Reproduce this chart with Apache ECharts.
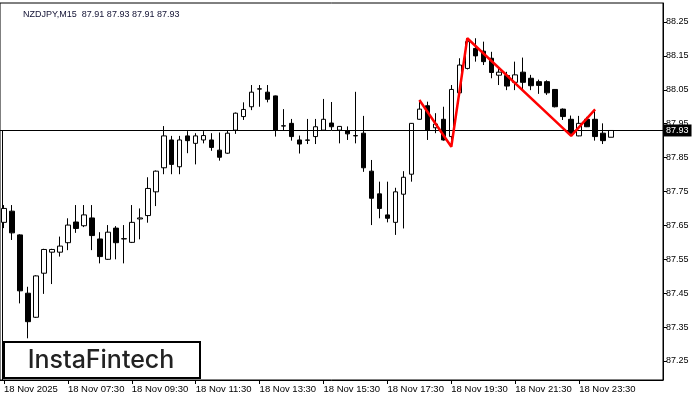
<!DOCTYPE html>
<html>
<head>
<meta charset="utf-8">
<script src="https://cdn.jsdelivr.net/npm/echarts@6/dist/echarts.min.js"></script>
<style>html,body{margin:0;padding:0;background:#fff}#c{width:700px;height:400px}</style>
</head>
<body>
<div id="c"></div>
<script>
var categories = ["05:30","05:45","06:00","06:15","06:30","06:45","07:00","07:15","07:30","07:45","08:00","08:15","08:30","08:45","09:00","09:15","09:30","09:45","10:00","10:15","10:30","10:45","11:00","11:15","11:30","11:45","12:00","12:15","12:30","12:45","13:00","13:15","13:30","13:45","14:00","14:15","14:30","14:45","15:00","15:15","15:30","15:45","16:00","16:15","16:30","16:45","17:00","17:15","17:30","17:45","18:00","18:15","18:30","18:45","19:00","19:15","19:30","19:45","20:00","20:15","20:30","20:45","21:00","21:15","21:30","21:45","22:00","22:15","22:30","22:45","23:00","23:15","23:30","23:45","00:00","00:15","00:30","00:45","01:00","01:15","01:30","01:45","02:00"];
var opens  = [87.659,87.692,87.622,87.450,87.379,87.509,87.571,87.571,87.599,87.660,87.649,87.672,87.610,87.550,87.642,87.610,87.600,87.669,87.679,87.749,87.820,87.902,87.823,87.914,87.892,87.902,87.902,87.872,87.863,87.931,87.971,88.000,88.052,88.043,88.032,87.943,87.951,87.902,87.901,87.912,87.931,87.952,87.931,87.929,87.914,87.922,87.810,87.743,87.681,87.659,87.742,87.801,87.963,88.003,87.938,87.963,87.912,88.041,88.113,88.172,88.164,88.143,88.093,88.092,88.072,88.102,88.084,88.074,88.074,88.051,87.993,87.963,87.914,87.963,87.963,87.922,87.910];
var closes = [87.700,87.628,87.457,87.366,87.501,87.579,87.579,87.589,87.651,87.641,87.681,87.620,87.558,87.630,87.599,87.611,87.659,87.672,87.759,87.810,87.914,87.830,87.902,87.900,87.914,87.915,87.880,87.851,87.922,87.981,87.992,88.043,88.053,88.022,87.931,87.944,87.912,87.890,87.902,87.941,87.963,87.941,87.942,87.920,87.915,87.820,87.730,87.700,87.671,87.749,87.792,87.951,87.993,87.931,87.949,87.902,88.051,88.123,88.192,88.150,88.133,88.101,88.102,88.061,88.094,88.072,88.062,88.063,88.041,88.000,87.971,87.920,87.951,87.941,87.912,87.900,87.930];
var lows   = [87.642,87.607,87.420,87.317,87.377,87.448,87.477,87.558,87.577,87.628,87.645,87.577,87.538,87.548,87.550,87.538,87.598,87.609,87.658,87.707,87.801,87.801,87.801,87.863,87.830,87.892,87.870,87.841,87.861,87.920,87.961,87.990,88.000,88.013,87.912,87.931,87.900,87.862,87.890,87.890,87.931,87.931,87.892,87.902,87.892,87.808,87.651,87.671,87.659,87.622,87.641,87.779,87.962,87.902,87.922,87.900,87.882,88.040,88.110,88.133,88.123,88.084,88.064,88.049,88.049,88.049,88.049,88.038,88.035,87.998,87.961,87.914,87.913,87.940,87.900,87.890,87.910];
var highs  = [87.710,87.710,87.624,87.469,87.503,87.581,87.581,87.617,87.671,87.710,87.710,87.710,87.630,87.651,87.648,87.651,87.710,87.700,87.792,87.812,87.943,87.914,87.914,87.928,87.922,87.928,87.922,87.924,87.931,87.983,88.013,88.064,88.064,88.064,88.033,87.993,87.964,87.915,87.964,87.964,88.023,88.014,87.943,87.942,88.044,87.973,87.843,87.779,87.779,87.761,87.810,87.952,88.020,88.015,87.981,88.000,88.064,88.143,88.202,88.202,88.192,88.162,88.116,88.103,88.133,88.145,88.094,88.080,88.078,88.052,87.995,87.974,87.973,87.970,87.992,87.951,87.930];
var patternIdx = [52, 56, 58, 71, 74];
var patternVal = [88.020, 87.882, 88.202, 87.914, 87.992];
var yTickValues = [87.25,87.35,87.45,87.55,87.65,87.75,87.85,87.95,88.05,88.15,88.25];
var xTickIdx = [0, 8, 16, 24, 32, 40, 48, 56, 64, 72];
var xTickText = ["18 Nov 2025","18 Nov 07:30","18 Nov 09:30","18 Nov 11:30","18 Nov 13:30","18 Nov 15:30","18 Nov 17:30","18 Nov 19:30","18 Nov 21:30","18 Nov 23:30"];
var bidPrice = 87.93;
var headerText = "NZDJPY,M15  87.91 87.93 87.91 87.93";

var candleData = opens.map(function(o, i){ return [o, closes[i], lows[i], highs[i]]; });
var patternData = patternIdx.map(function(ix, i){ return [ix, patternVal[i]]; });
function isTick(i){ return xTickIdx.indexOf(i) >= 0; }

var chart = echarts.init(document.getElementById('c'), null, {renderer:'canvas'});
chart.setOption({
  animation: false,
  backgroundColor: '#fff',
  textStyle: {fontFamily: 'Liberation Sans, Arial, sans-serif'},
  title: {text: headerText, left: 18, top: 5, textStyle: {fontSize: 9, fontWeight: 'normal', color: '#111133', fontFamily: 'Liberation Sans, Arial, sans-serif'}},
  grid: {left: -1, top: 3, width: 664, height: 377, show: true, borderColor: '#000', borderWidth: 1, backgroundColor: 'transparent'},
  xAxis: {
    type: 'category', data: categories, boundaryGap: true,
    axisLine: {show: true, lineStyle: {color: '#000', width: 1}},
    axisTick: {show: true, alignWithLabel: true, length: 4, interval: function(i){ return isTick(i); }, lineStyle: {color: '#000'}},
    axisLabel: {interval: function(i){ return isTick(i); }, align: 'left', margin: 4, fontSize: 9.5, color: '#000',
      formatter: function(v, i){ var k = xTickIdx.indexOf(i); return k >= 0 ? xTickText[k] : ''; }},
    splitLine: {show: false}
  },
  yAxis: {
    type: 'value', position: 'right', min: 87.194, max: 88.306, scale: true,
    axisLine: {show: true, lineStyle: {color: '#000', width: 1}},
    axisTick: {show: true, length: 4, customValues: yTickValues, lineStyle: {color: '#000'}},
    axisLabel: {customValues: yTickValues, margin: 3, fontSize: 9, color: '#000', formatter: function(v){ return v.toFixed(2); }},
    splitLine: {show: false}
  },
  series: [
    {
      type: 'candlestick', data: candleData, barWidth: 5,
      itemStyle: {color: '#fff', color0: '#000', borderColor: '#000', borderColor0: '#000', borderWidth: 1},
      markLine: {
        silent: true, symbol: ['none','none'],
        lineStyle: {color: '#000', width: 1, type: 'solid'},
        label: {show: true, position: 'end', distance: 0, formatter: bidPrice.toFixed(2), backgroundColor: '#000', color: '#fff', fontSize: 9, padding: [2,3,1,3]},
        data: [{yAxis: bidPrice}]
      }
    },
    {
      type: 'line', data: patternData, symbol: 'none',
      lineStyle: {color: '#ff0000', width: 2.5}, z: 5
    }
  ],
  graphic: [
    {type: 'line', shape: {x1: 2.5, y1: 130, x2: 2.5, y2: 380}, style: {stroke: '#000', lineWidth: 1}},
    {type: 'rect', shape: {x: 4, y: 342, width: 196, height: 36}, style: {fill: '#fff', stroke: '#000', lineWidth: 2}, z: 100},
    {type: 'text', x: 101, y: 360, style: {text: 'InstaFintech', font: '500 25px Inter', fill: '#222', align: 'center', verticalAlign: 'middle'}, z: 101}
  ]
});
</script>
</body>
</html>
